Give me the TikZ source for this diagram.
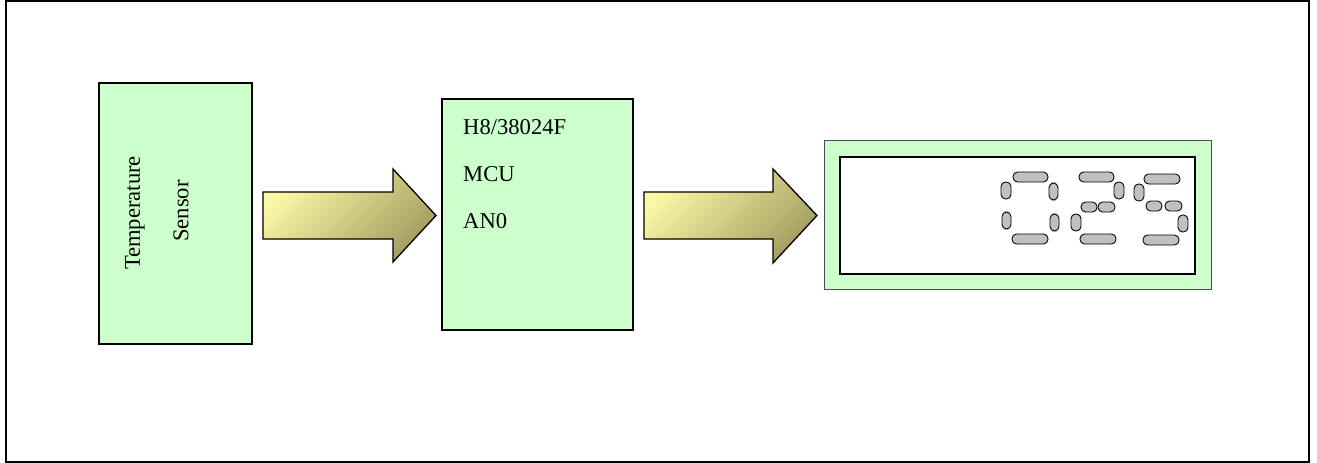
\documentclass[tikz,border=0pt]{standalone}
\usepackage{fontspec}
\setmainfont{Liberation Serif}
\definecolor{boxgreen}{HTML}{CCFFCC}
\definecolor{arrlight}{HTML}{FBF8A6}
\definecolor{arrdark}{HTML}{A39E60}
\definecolor{seggray}{HTML}{C0C0C0}
\tikzset{
  block/.style={draw=black, line width=1.3pt, fill=boxgreen, inner sep=0pt, outer sep=0pt},
  lbl/.style={inner sep=0pt, font=\fontsize{22.6}{27}\selectfont},
  bigarrow/.style={draw=black, line width=1.3pt, top color=arrlight, bottom color=arrdark, shading angle=45},
  seg/.style={draw=black, line width=0.9pt, fill=seggray, rounded corners=4.6pt},
}
\begin{document}
\begin{tikzpicture}[x=1pt,y=-1pt]
\useasboundingbox (0,0) rectangle (1317,463);
\draw[line width=2pt] (6,1) rectangle (1309,462);

% sensor block
\node[block, minimum width=153pt, minimum height=261pt] (sensor) at (175.5,213.5) {};
\node[lbl, rotate=90] (t1) at (135,213) {Temperature};
\node[lbl, rotate=90] (t2) at (181,211) {Sensor};

% MCU block
\node[block, minimum width=191pt, minimum height=231pt] (mcu) at (537.5,214.5) {};
\node[lbl, anchor=base west] (m1) at (463,134) {H8/38024F};
\node[lbl, anchor=base west] (m2) at (463,181) {MCU};
\node[lbl, anchor=base west] (m3) at (463,228) {AN0};

% display
\node[draw=black!70, line width=1pt, fill=boxgreen, inner sep=0pt, outer sep=0pt, minimum width=387pt, minimum height=149pt] (disp) at (1017.5,214.5) {};
\node[draw=black, line width=1.6pt, fill=white, inner sep=0pt, outer sep=0pt, minimum width=355pt, minimum height=117pt] (screen) at (1017.5,215.5) {};

% block arrows
\coordinate (a1) at (263,215.5);
\coordinate (a2) at (644,215.5);
\path[bigarrow] (a1) ++(0,-23.5) -- ++(130,0) -- ++(0,-23) -- (436,215.5) -- (393,262) -- ++(0,-23) -- (263,239) -- cycle;
\path[bigarrow] (a2) ++(0,-23.5) -- ++(129,0) -- ++(0,-23) -- (817,215.5) -- (773,263) -- ++(0,-24) -- (644,239) -- cycle;

% digit 0
\draw[seg] (1013,172) rectangle (1048,182);
\draw[seg] (1001,182) rectangle (1011,199);
\draw[seg] (1049,183) rectangle (1058,200);
\draw[seg] (1002,212) rectangle (1011,229);
\draw[seg] (1050,214) rectangle (1059,231);
\draw[seg] (1012,234) rectangle (1048,244);
% digit 2
\draw[seg] (1079,172) rectangle (1114,182);
\draw[seg] (1114,182) rectangle (1124,199);
\draw[seg] (1081,202) rectangle (1097,212);
\draw[seg] (1098,202) rectangle (1115,212);
\draw[seg] (1071,214) rectangle (1081,231);
\draw[seg] (1080,234) rectangle (1116,244);
% digit 5
\draw[seg] (1144,174) rectangle (1180,184);
\draw[seg] (1134,184) rectangle (1144,201);
\draw[seg] (1146,201) rectangle (1162,211);
\draw[seg] (1165,201) rectangle (1182,211);
\draw[seg] (1178,215) rectangle (1188,232);
\draw[seg] (1143,235) rectangle (1179,245);
\end{tikzpicture}
\end{document}
